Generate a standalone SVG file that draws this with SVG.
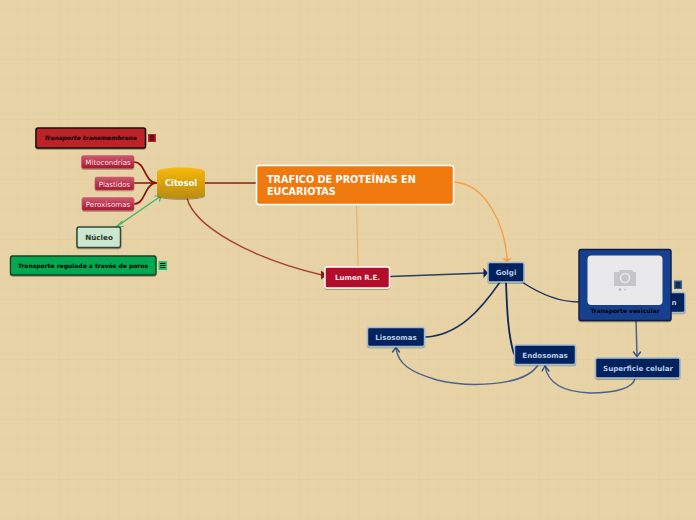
<svg xmlns="http://www.w3.org/2000/svg" width="696" height="520" viewBox="0 0 696 520">
<style>
text{font-family:"DejaVu Sans",sans-serif;text-anchor:middle}
.c{fill:none;stroke-linecap:round}
.navy{fill:#04205f;stroke:#a3bdd0;stroke-width:1.5}
.navyt{fill:#bccce2;font-size:7.1px;font-weight:bold}
.pink{fill:url(#pink);stroke:#c9566f;stroke-width:.5}
.pinkt{fill:#f7dfe2;font-size:7.1px}
.blk{fill:#000;font-size:6px;font-weight:bold}
</style>
<defs>
<pattern id="g" width="60" height="60" patternUnits="userSpaceOnUse" x="-2" y="-1">
<path d="M10 0V60M20 0V60M30 0V60M40 0V60M50 0V60M0 10H60M0 20H60M0 30H60M0 40H60M0 50H60" stroke="#e2cda0" stroke-width="1" opacity=".5" fill="none"/>
<path d="M0 0V60M0 0H60" stroke="#dfc99c" stroke-width="1" opacity=".9" fill="none"/>
</pattern>
<linearGradient id="gold" x1="0" y1="0" x2="0" y2="1"><stop offset="0" stop-color="#f8b90f"/><stop offset="1" stop-color="#b98a12"/></linearGradient>
<linearGradient id="pink" x1="0" y1="0" x2="0" y2="1"><stop offset="0" stop-color="#cc5a70"/><stop offset="1" stop-color="#a9182f"/></linearGradient>
<filter id="s" x="-10%" y="-10%" width="120%" height="130%"><feDropShadow dx="0" dy="1" stdDeviation=".7" flood-color="#000" flood-opacity=".35"/></filter>
<symbol id="ico" viewBox="0 0 8 8"><path d="M1.500 2H6.500M1.500 4H6.500M1.500 6H6.500" stroke="#000" stroke-width="1"/></symbol>
</defs>
<rect width="696" height="520" fill="#e7d3a6"/>
<rect width="696" height="520" fill="url(#g)"/>

<g id="connectors">
<path class="c" d="M205 183H256" stroke="#8f1d14" stroke-width="1.500"/>
<path class="c" d="M157 183H134M157 183C144 183 146 162 134 162M157 183C144 183 146 204 134 204" stroke="#8b1208" stroke-width="1.700"/>
<path class="c" d="M187 198C194 226 250 258 322 275" stroke="#a5402f" stroke-width="1.400"/>
<path d="M321 270.500L327 275 321 279.500Z" fill="#8b1a10"/>
<path class="c" d="M116 227L161 196" stroke="#3fb468" stroke-width="1.400"/>
<path class="c" d="M122 221.500L116 227 123.500 226.500M155 196L161 196 159.500 201" stroke="#3fb468" stroke-width="1.200"/>
<path class="c" d="M356.500 205L358 266" stroke="#f0b06c" stroke-width="1.200"/>
<path class="c" d="M454 182C486 184 505 225 507 259" stroke="#f4a048" stroke-width="1.400"/>
<path d="M502 258.500H512L507 262Z" fill="#f4a048"/>
<path class="c" d="M390 276.500L485 273" stroke="#2b3f63" stroke-width="1.500"/>
<path d="M483.500 268L488 273 483.500 278Z" fill="#12264f"/>
<path class="c" d="M500 282C480 311 458 335 426 337" stroke="#1a3060" stroke-width="1.600"/>
<path class="c" d="M506 282C507 310 508 335 514 354" stroke="#0f2657" stroke-width="1.800"/>
<path class="c" d="M522 282C540 294 558 302 579 302" stroke="#1a3060" stroke-width="1.500"/>
<path class="c" d="M636 320L637 356" stroke="#4a628f" stroke-width="1.500"/>
<path class="c" d="M633.500 352L637 356.500 640.500 352" stroke="#304d85" stroke-width="1.400"/>
<path class="c" d="M538 365C525 386 470 388 437 380C410 372 398 364 396 348" stroke="#4a628f" stroke-width="1.500"/>
<path class="c" d="M392.500 352L396 347.500 399.500 352" stroke="#304d85" stroke-width="1.400"/>
<path class="c" d="M635 378C634 388 615 393 590 393C565 392 548 385 545 366" stroke="#4a628f" stroke-width="1.500"/>
<path class="c" d="M542 371L545 366 549 371" stroke="#304d85" stroke-width="1.400"/>
</g>

<g id="node-transmembrana"><rect x="36" y="128" width="109.500" height="20" rx="2" fill="#bd2027" stroke="#111" stroke-width="1.500" filter="url(#s)"/><text x="90.500" y="140" class="blk" font-style="italic">Transporte transmembrana</text><rect x="148" y="134" width="8" height="8" fill="#c4202a"/><use href="#ico" x="148" y="134" width="8" height="8"/></g>
<g id="node-mitocondrias"><rect x="81.500" y="155.500" width="52.500" height="13" rx="2" class="pink" filter="url(#s)"/><text x="108" y="165" class="pinkt">Mitocondrias</text></g>
<g id="node-plastidos"><rect x="95" y="177" width="39" height="13" rx="2" class="pink" filter="url(#s)"/><text x="114.500" y="186.500" class="pinkt">Plastidos</text></g>
<g id="node-peroxisomas"><rect x="82" y="197.500" width="52" height="13" rx="2" class="pink" filter="url(#s)"/><text x="108" y="207" class="pinkt">Peroxisomas</text></g>
<g id="node-citosol"><path d="M157 172C157 166 205 166 205 172V195C205 200 157 200 157 195Z" fill="url(#gold)" filter="url(#s)"/><text x="181" y="186" fill="#fff" font-size="8.300" font-weight="bold">Citosol</text></g>
<g id="node-nucleo"><rect x="77" y="227" width="43.500" height="20.500" rx="2" fill="#cde6cf" stroke="#2e4a3a" stroke-width="1.500" filter="url(#s)"/><text x="99" y="240" fill="#263a2e" font-size="7.200" font-weight="bold">Núcleo</text></g>
<g id="node-regulado"><rect x="10.500" y="256" width="145.500" height="19" rx="2" fill="#05a84f" stroke="#183d28" stroke-width="1.300" filter="url(#s)"/><text x="83" y="268" class="blk">Transporte regulado a través de poros</text><rect x="158.500" y="261" width="8.500" height="9" fill="#28c06a"/><use href="#ico" x="158.800" y="261.500" width="8" height="8"/></g>
<g id="node-main"><rect x="256.500" y="165.500" width="197" height="39" rx="2.500" fill="#f0790e" stroke="#fff" stroke-width="1.500"/><text x="267" y="183" fill="#fff" font-size="9.700" font-weight="bold" style="text-anchor:start">TRAFICO DE PROTEÍNAS EN</text><text x="267" y="195" fill="#fff" font-size="9.700" font-weight="bold" style="text-anchor:start">EUCARIOTAS</text></g>
<g id="node-lumen"><rect x="325" y="267" width="64.500" height="21" rx="2" fill="#b20b2c" stroke="#fff" stroke-width="1.500" filter="url(#s)"/><text x="357.500" y="280" fill="#f8e6e6" font-size="7.100" font-weight="bold">Lumen R.E.</text></g>
<g id="node-golgi"><rect x="488" y="262.500" width="36" height="19.500" rx="2" class="navy" filter="url(#s)"/><text x="506" y="275" class="navyt">Golgi</text></g>
<g id="node-lisosomas"><rect x="367.500" y="327.500" width="57" height="19" rx="2" class="navy" filter="url(#s)"/><text x="396" y="340" class="navyt">Lisosomas</text></g>
<g id="node-endosomas"><rect x="514.500" y="345" width="61" height="19.500" rx="2" class="navy" filter="url(#s)"/><text x="545" y="357.500" class="navyt">Endosomas</text></g>
<g id="node-superficie"><rect x="595.500" y="358" width="84.500" height="20" rx="2" class="navy" filter="url(#s)"/><text x="638" y="370.500" class="navyt">Superficie celular</text></g>
<g id="node-hidden"><rect x="640" y="292.500" width="45" height="20" rx="2" class="navy" filter="url(#s)"/><text x="674" y="305" class="navyt">n</text><rect x="674" y="280.500" width="8" height="8.500" fill="#2d5f9a"/><use href="#ico" x="674" y="281" width="8" height="8"/></g>
<g id="node-vesicular"><rect x="579" y="249.500" width="92" height="71" rx="2" fill="#153f8f" stroke="#0f1f3f" stroke-width="1.300" filter="url(#s)"/><rect x="587.500" y="255.500" width="75" height="49.500" rx="4" fill="#e9e9ec"/><path d="M614 272H619L620 270H632L633 272H636V286H614Z" fill="#c6c6c9"/><circle cx="625" cy="278" r="4.500" fill="#c6c6c9" stroke="#e9e9ec" stroke-width="1.600"/><circle cx="620" cy="289.500" r="1.300" fill="#b4b4b8"/><circle cx="625" cy="289.500" r="1.100" fill="#c8c8cc"/><text x="625" y="313" class="blk">Transporte vesicular</text></g>
</svg>
